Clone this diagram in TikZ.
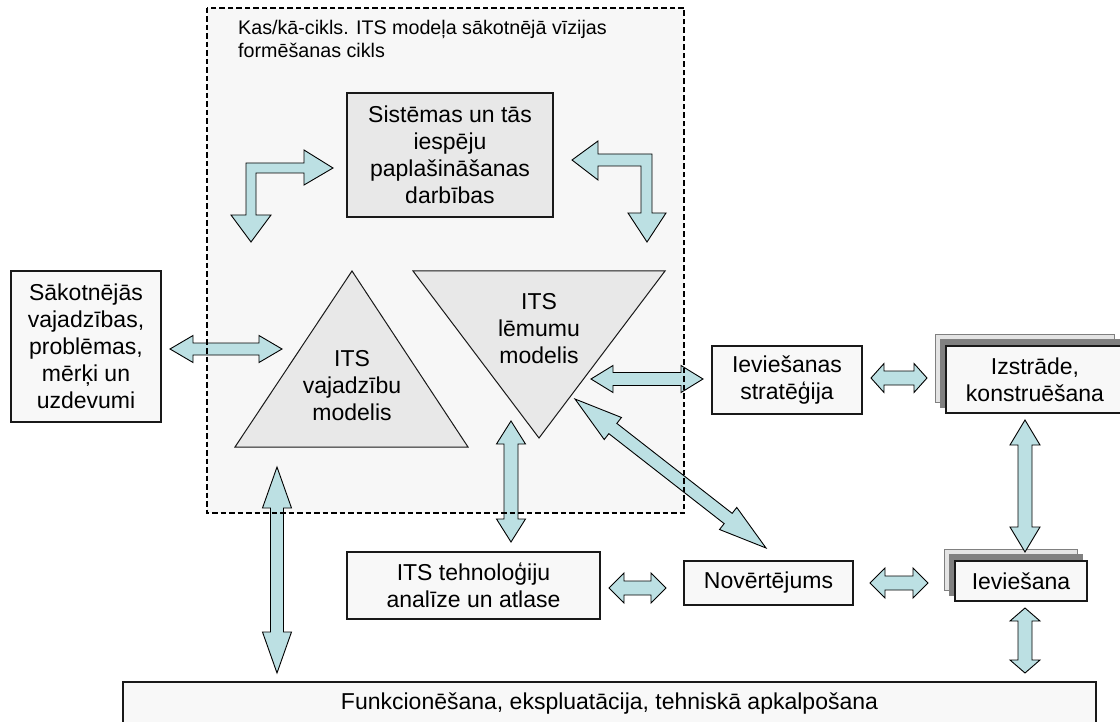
\documentclass[tikz,border=0pt]{standalone}
\usepackage{fontspec}
\setmainfont{Liberation Sans}
\usetikzlibrary{calc,backgrounds}

\definecolor{arrowcyan}{RGB}{188,224,227}
\definecolor{paneBg}{RGB}{247,247,247}
\definecolor{boxBg}{RGB}{248,248,248}
\definecolor{modelBg}{RGB}{232,232,232}
\definecolor{shadeDark}{RGB}{128,128,128}
\definecolor{shadeLight}{RGB}{228,228,228}

\newcommand\mainsize{\fontsize{23}{27}\selectfont}
\newcommand\titlesize{\fontsize{19.7}{23}\selectfont}

% block double arrow between two named points:
% #1 start, #2 end, #3 half shaft width, #4 half head width, #5 head length
\newcommand\twoway[5]{%
  \filldraw[arr] (#1)
    -- ($ ($(#1)!#5!(#2)$) !#4!90:(#2) $)
    -- ($ ($(#1)!#5!(#2)$) !#3!90:(#2) $)
    -- ($ ($(#2)!#5!(#1)$) !#3!-90:(#1) $)
    -- ($ ($(#2)!#5!(#1)$) !#4!-90:(#1) $)
    -- (#2)
    -- ($ ($(#2)!#5!(#1)$) !#4!90:(#1) $)
    -- ($ ($(#2)!#5!(#1)$) !#3!90:(#1) $)
    -- ($ ($(#1)!#5!(#2)$) !#3!-90:(#2) $)
    -- ($ ($(#1)!#5!(#2)$) !#4!-90:(#2) $)
    -- cycle;}

\tikzset{
  arr/.style={fill=arrowcyan, draw=black, line width=0.9pt, line join=miter},
  box/.style={draw=black!90, line width=1.3pt, fill=boxBg, inner sep=0pt,
              align=center, font=\mainsize},
  model/.style={draw=black!90, line width=1pt, fill=modelBg, line join=miter},
  label/.style={font=\mainsize, align=center, inner sep=0pt},
  pane/.style={draw=black, line width=2.2pt, dash pattern=on 5.5pt off 3pt},
}

\begin{document}
\begin{tikzpicture}[x=1pt, y=-1pt]
\useasboundingbox (0,0) rectangle (1120,722);

% vision-forming cycle pane
\begin{pgfonlayer}{background}
  \fill[white] (0,0) rectangle (1120,722);
  \fill[paneBg] (207,8) rectangle (684,513);
\end{pgfonlayer}
\node[anchor=base west, inner sep=0pt, font=\titlesize] (title1) at (238,35)
  {Kas/kā-cikls. ITS modeļa sākotnējā vīzijas};
\node[anchor=base west, inner sep=0pt, font=\titlesize] (title2) at (238,58)
  {formēšanas cikls};

% the two models
\draw[model] (352,271) -- (468,447) -- (235,447) -- cycle;
\node[label] (needsmodel) at (352,386) {ITS\\vajadzību\\modelis};
\draw[model] (413,271) -- (665,271) -- (539,438) -- cycle;
\node[label] (decisionmodel) at (539,329) {ITS\\lēmumu\\modelis};

% boxes
\node[box, fill=modelBg, minimum width=206pt, minimum height=124pt] (sys) at (450,155)
  {Sistēmas un tās\\iespēju\\paplašināšanas\\darbības};
\node[box, minimum width=150pt, minimum height=151pt] (needs) at (86,346.5)
  {Sākotnējās\\vajadzības,\\problēmas,\\mērķi un\\uzdevumi};
\node[box, minimum width=150pt, minimum height=68pt] (strategy) at (787,380)
  {Ieviešanas\\stratēģija};
\node[box, minimum width=178pt, minimum height=67pt] (build) at (1035,379.5)
  {Izstrāde,\\konstruēšana};
\node[box, minimum width=253pt, minimum height=67pt] (tech) at (473.5,585.5)
  {ITS tehnoloģiju\\analīze un atlase};
\node[box, minimum width=169pt, minimum height=44pt] (eval) at (768.5,583)
  {Novērtējums};
\node[box, minimum width=132pt, minimum height=40pt] (deploy) at (1021,581)
  {Ieviešana};
\node[box, minimum width=973pt, minimum height=44pt] (ops) at (609.5,704)
  {Funkcionēšana, ekspluatācija, tehniskā apkalpošana};

% stacked shadows behind the two implementation boxes
\begin{pgfonlayer}{background}
  \foreach \b in {build,deploy}{
    \filldraw[fill=shadeLight, draw=shadeDark, line width=0.8pt]
      ($(\b.south west)+(-10,-11)$) rectangle ($(\b.north east)+(-10,-11)$);
    \fill[shadeDark] ($(\b.south west)+(-5,-6)$) rectangle ($(\b.north east)+(-5,-6)$);
  }
\end{pgfonlayer}

% bent arrows around the system box
\filldraw[arr] (246,163) -- (304,163) -- (304,150) -- (333,168) -- (304,185)
  -- (304,173) -- (256,173) -- (256,215) -- (271,215) -- (251,242)
  -- (231,215) -- (246,215) -- cycle;
\filldraw[arr] (652,154) -- (598,154) -- (598,141) -- (572,160) -- (598,180)
  -- (598,166) -- (641,166) -- (641,213) -- (628,213) -- (647,242)
  -- (666,213) -- (652,213) -- cycle;

% connector end points
\coordinate (n1) at (170,349);  \coordinate (n2) at (282,349);
\coordinate (s1) at (591,379);  \coordinate (s2) at (703,379);
\coordinate (b1) at (871,378);  \coordinate (b2) at (927,378);
\coordinate (t1) at (511,421);  \coordinate (t2) at (511,542);
\coordinate (e1) at (575,399);  \coordinate (e2) at (766,548);
\coordinate (d1) at (1025,420); \coordinate (d2) at (1025,552);
\coordinate (v1) at (609,588);  \coordinate (v2) at (666,588);
\coordinate (w1) at (870,583);  \coordinate (w2) at (928,583);
\coordinate (o1) at (1025,608); \coordinate (o2) at (1025,673);
\coordinate (m1) at (277,467);  \coordinate (m2) at (277,673);

\twoway{n1}{n2}{6pt}{13.5pt}{23pt}
\twoway{s1}{s2}{6.5pt}{13.5pt}{22pt}
\twoway{b1}{b2}{7pt}{14.5pt}{13pt}
\twoway{t1}{t2}{7pt}{14.5pt}{23pt}
\twoway{e1}{e2}{6.5pt}{14pt}{48pt}
\twoway{d1}{d2}{7pt}{15pt}{25pt}
\twoway{v1}{v2}{7pt}{15pt}{15pt}
\twoway{w1}{w2}{7pt}{15pt}{15pt}
\twoway{o1}{o2}{7pt}{15pt}{13pt}
\twoway{m1}{m2}{6.5pt}{14.5pt}{41pt}

% pane border on top
\draw[pane] (207,8) rectangle (684,513);
\end{tikzpicture}
\end{document}
